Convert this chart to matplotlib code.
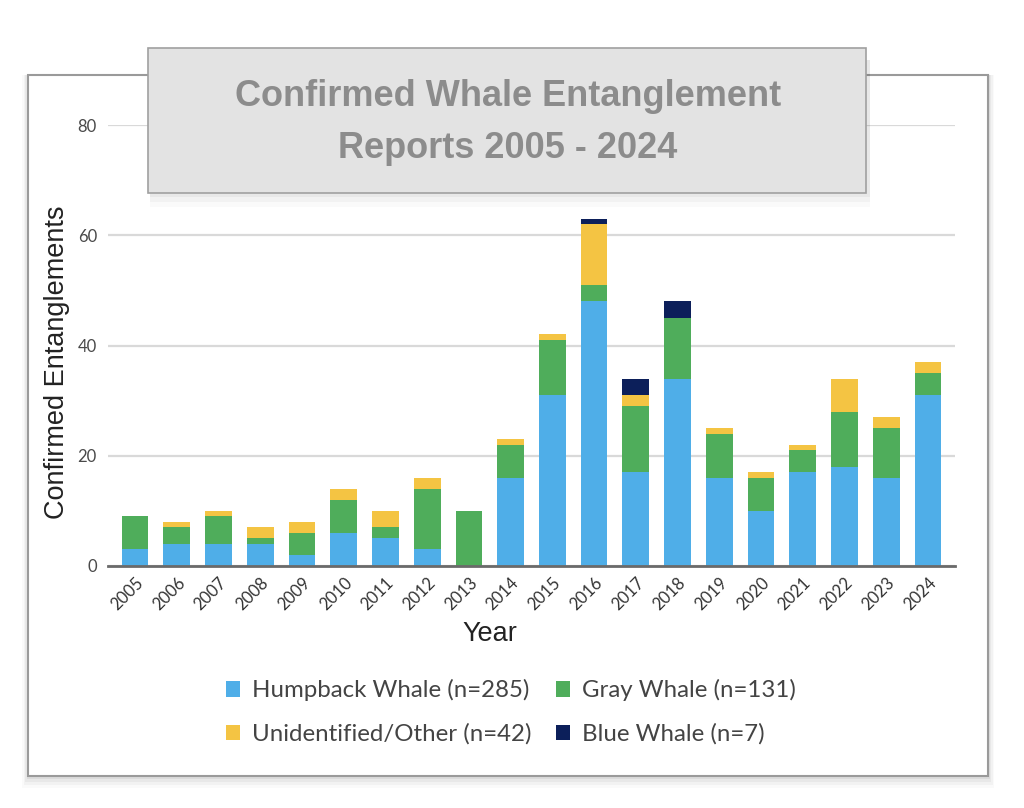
import matplotlib
matplotlib.use('Agg')
from matplotlib import pyplot
from matplotlib.patches import Rectangle, Patch
import numpy

years = [str(y) for y in range(2005, 2025)]
humpback = [3, 4, 4, 4, 2, 6, 5, 3, 0, 16, 31, 48, 17, 34, 16, 10, 17, 18, 16, 31]
gray = [6, 3, 5, 1, 4, 6, 2, 11, 10, 6, 10, 3, 12, 11, 8, 6, 4, 10, 9, 4]
unidentified = [0, 1, 1, 2, 2, 2, 3, 2, 0, 1, 1, 11, 2, 0, 1, 1, 1, 6, 2, 2]
blue = [0, 0, 0, 0, 0, 0, 0, 0, 0, 0, 0, 1, 3, 3, 0, 0, 0, 0, 0, 0]

series = [
    ('Humpback Whale (n=285)', humpback, '#4faee8'),
    ('Gray Whale (n=131)', gray, '#4fad5b'),
    ('Unidentified/Other (n=42)', unidentified, '#f4c443'),
    ('Blue Whale (n=7)', blue, '#0c1f5a'),
]

W, H = 1024, 808
fig = pyplot.figure(figsize=(W / 100, H / 100), dpi=100)
fig.patch.set_facecolor('white')

def fx(px):
    return px / W

def fy(py):
    return 1 - py / H

# outer frame with soft shadow
for i, a in enumerate([0.05, 0.04, 0.03, 0.02]):
    d = 3 + i * 3
    fig.patches.append(Rectangle((fx(28 - d / 2), fy(776 + d)), fx(960 + d), fy(75) - fy(776 + d),
                                 transform=fig.transFigure, facecolor='#000000', alpha=a,
                                 edgecolor='none', zorder=0))
fig.patches.append(Rectangle((fx(28), fy(776)), fx(960), fy(75) - fy(776),
                             transform=fig.transFigure, facecolor='white',
                             edgecolor='#9a9a9a', linewidth=1.5, zorder=0.5))

ax = fig.add_axes([fx(108), fy(566), fx(847), fy(125) - fy(566)])
ax.set_zorder(2)
ax.set_facecolor('none')
x = numpy.arange(len(years))
bottom = numpy.zeros(len(years))
for name, vals, col in series:
    vals = numpy.array(vals)
    ax.bar(x, vals, 0.64, bottom=bottom, color=col, label=name, zorder=3)
    bottom += vals

ax.set_xlim(-0.65, len(years) - 0.35)
ax.set_ylim(0, 80)
ax.set_yticks([0, 20, 40, 60, 80])
ax.grid(axis='y', color='#d9d9d9', linewidth=1.6, zorder=0)
for s in ['top', 'right', 'left']:
    ax.spines[s].set_visible(False)
ax.spines['bottom'].set_color('#6a6a6a')
ax.spines['bottom'].set_linewidth(2)
ax.spines['bottom'].set_zorder(4)
ax.tick_params(axis='both', length=0)
ax.tick_params(axis='y', pad=8, labelsize=12, labelcolor='#4a4a4a')
ax.set_xticks(x)
ax.set_xticklabels(years, rotation=45, ha='right', rotation_mode='anchor',
                   fontsize=12, color='#333333', family='Lato')
for lab in ax.get_yticklabels():
    lab.set_family('Lato')
ax.tick_params(axis='x', pad=6)

fig.text(fx(57), fy(362), 'Confirmed Entanglements', rotation=90, ha='center', va='center',
         fontsize=19.5, color='#222222', family='Liberation Sans')
fig.text(fx(490), fy(634), 'Year', ha='center', va='center',
         fontsize=19.5, color='#222222', family='Liberation Sans')

# title box
for i, a in enumerate([0.04, 0.03, 0.02]):
    d = 4 + i * 5
    fig.patches.append(Rectangle((fx(150), fy(193 + d)), fx(720), fy(60) - fy(193 + d),
                                 transform=fig.transFigure, facecolor='#000000', alpha=a,
                                 edgecolor='none', zorder=5))
fig.patches.append(Rectangle((fx(148), fy(193)), fx(718), fy(48) - fy(193),
                             transform=fig.transFigure, facecolor='#e3e3e3',
                             edgecolor='#a0a0a0', linewidth=1.2, zorder=6))
for txt, yy in [('Confirmed Whale Entanglement', 97), ('Reports 2005 - 2024', 148)]:
    fig.text(fx(508), fy(yy), txt, ha='center', va='center',
             fontsize=26, fontweight='bold', color='#8c8c8c',
             family='Liberation Sans', zorder=7)

# legend: Humpback/Gray on first row, Unidentified/Blue on second
handles = [Patch(facecolor=series[i][2], label=series[i][0]) for i in [0, 2, 1, 3]]
leg = fig.legend(handles=handles, ncol=2, loc='center', bbox_to_anchor=(fx(511), fy(712)),
                 frameon=False, handlelength=0.6, handleheight=0.6, handletextpad=0.5,
                 columnspacing=1.0, labelspacing=0.9,
                 prop={'family': 'Lato', 'size': 17.3})
for t in leg.get_texts():
    t.set_color('#444444')

fig.savefig('out.png', dpi=100)
